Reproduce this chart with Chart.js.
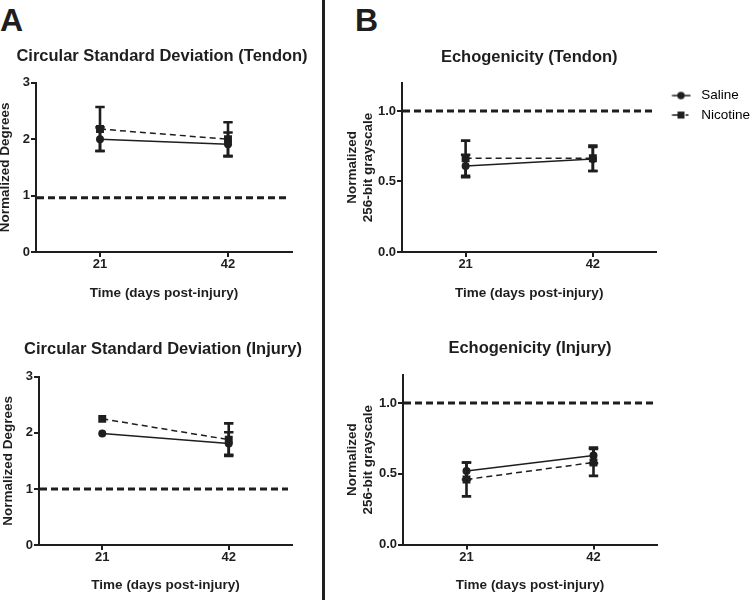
<!DOCTYPE html>
<html>
<head>
<meta charset="utf-8">
<script src="https://cdn.jsdelivr.net/npm/chart.js@4"></script>
<style>
  html, body { margin: 0; padding: 0; background: #fff; }
  #page { position: relative; width: 751px; height: 600px; overflow: hidden; font-family: "Liberation Sans", Arial, sans-serif; }
  canvas { position: absolute; }
  .letter { position: absolute; font-weight: bold; font-size: 32px; line-height: 1; color: #1e1e1e; }
  #divider { position: absolute; left: 322px; top: 0; width: 3px; height: 600px; background: #1e1e1e; }
</style>
</head>
<body>
<div id="page">
  <div class="letter" style="left:0px; top:4px">A</div>
  <div class="letter" style="left:355px; top:4px">B</div>
  <div id="divider"></div>
  <canvas id="cstdTendon" width="324" height="310" style="left:0; top:0"></canvas>
  <canvas id="cstdInjury" width="326" height="300" style="left:0; top:300px"></canvas>
  <canvas id="echoTendon" width="434" height="310" style="left:326px; top:0"></canvas>
  <canvas id="echoInjury" width="340" height="300" style="left:326px; top:300px"></canvas>
</div>
<script>
// values (mean, error half-length)
const days = ["21", "42"];
const seriesNames = ["Saline", "Nicotine"];

const cstdTendonSaline = [2.00, 1.91];
const cstdTendonSalineErr = [0.21, 0.21];
const cstdTendonNicotine = [2.18, 2.00];
const cstdTendonNicotineErr = [0.39, 0.30];
const cstdTendonRef = 0.96;

const cstdInjurySaline = [1.99, 1.81];
const cstdInjurySalineErr = [0, 0.20];
const cstdInjuryNicotine = [2.25, 1.88];
const cstdInjuryNicotineErr = [0, 0.29];
const cstdInjuryRef = 1.0;

const echoTendonSaline = [0.61, 0.66];
const echoTendonSalineErr = [0.08, 0.085];
const echoTendonNicotine = [0.665, 0.665];
const echoTendonNicotineErr = [0.125, 0.09];
const echoTendonRef = 1.0;

const echoInjurySaline = [0.52, 0.63];
const echoInjurySalineErr = [0.06, 0.055];
const echoInjuryNicotine = [0.46, 0.58];
const echoInjuryNicotineErr = [0.12, 0.095];
const echoInjuryRef = 1.0;

const ink = "#1e1e1e";
Chart.defaults.font.family = "'Liberation Sans', Arial, sans-serif";
Chart.defaults.color = ink;

const refLinePlugin = {
	id: "refLine",
	beforeDatasetsDraw(chart, args, opts) {
		const { ctx, chartArea, scales } = chart;
		const y = scales.y.getPixelForValue(opts.value);
		ctx.save();
		ctx.strokeStyle = ink;
		ctx.lineWidth = 3;
		ctx.setLineDash([7, 4]);
		ctx.beginPath();
		ctx.moveTo(chartArea.left + 1, y);
		ctx.lineTo(chartArea.right - 4, y);
		ctx.stroke();
		ctx.restore();
	}
};

const errorBarPlugin = {
	id: "errorBars",
	beforeDatasetsDraw(chart) {
		const { ctx, scales } = chart;
		ctx.save();
		ctx.strokeStyle = ink;
		ctx.lineWidth = 2.6;
		chart.data.datasets.forEach((ds, i) => {
			const meta = chart.getDatasetMeta(i);
			ds.errors.forEach((err, j) => {
				if (!err) return;
				const x = meta.data[j].x;
				const top = scales.y.getPixelForValue(ds.data[j] + err);
				const bottom = scales.y.getPixelForValue(ds.data[j] - err);
				ctx.beginPath();
				ctx.moveTo(x, top);
				ctx.lineTo(x, bottom);
				ctx.moveTo(x - 4.7, top);
				ctx.lineTo(x + 4.7, top);
				ctx.moveTo(x - 4.7, bottom);
				ctx.lineTo(x + 4.7, bottom);
				ctx.stroke();
			});
		});
		ctx.restore();
	}
};

function legendIcon(square) {
	const $c = document.createElement("canvas");
	$c.width = 32;
	$c.height = 12;
	const g = $c.getContext("2d");
	g.strokeStyle = ink;
	g.fillStyle = ink;
	g.lineWidth = 1.5;
	g.beginPath();
	if (square) {
		g.moveTo(9.5, 6); g.lineTo(16, 6);
		g.moveTo(23, 6); g.lineTo(26, 6);
		g.stroke();
		g.fillRect(15, 2.5, 7, 7);
	} else {
		g.moveTo(9.5, 6); g.lineTo(28, 6);
		g.stroke();
		g.beginPath();
		g.arc(18.5, 6, 3.7, 0, Math.PI * 2);
		g.fill();
	}
	return $c;
}
const legendIcons = [legendIcon(false), legendIcon(true)];

function makePanel(id, p) {
	const axisGrid = { offset: false, drawOnChartArea: false, drawTicks: true, tickLength: 5, color: ink, lineWidth: 2 };
	const scales = {
		x: {
			type: "category",
			offset: true,
			grid: axisGrid,
			border: { color: ink, width: 2 },
			ticks: { padding: 0, maxRotation: 0, color: ink, font: { size: 13, weight: "bold" } },
			title: {
				display: true,
				text: "Time (days post-injury)",
				color: ink,
				font: { size: 13.5, weight: "bold", lineHeight: 1 },
				padding: { top: 0, bottom: 0 }
			},
			afterFit: (s) => { s.height = p.xHeight; }
		},
		y: {
			min: 0,
			max: p.yMax,
			grid: axisGrid,
			border: { color: ink, width: 2 },
			ticks: {
				stepSize: p.yStep,
				includeBounds: false,
				padding: 1,
				color: ink,
				font: { size: 13, weight: "bold" },
				callback: p.yFormat
			},
			title: {
				display: true,
				text: p.yTitle,
				color: ink,
				font: { size: 13.5, weight: "bold", lineHeight: p.yLine },
				padding: { top: p.yTitlePad, bottom: 0 }
			},
			afterFit: (s) => { s.width = p.yWidth; }
		}
	};
	if (p.spacer) {
		// empty right-hand box so the wide title stays centred over the plot
		scales.spacer = {
			type: "linear",
			position: "right",
			grid: { display: false },
			border: { display: false },
			ticks: { display: false },
			afterFit: (s) => { s.width = p.spacer; }
		};
	}
	return new Chart(document.getElementById(id), {
		type: "line",
		data: {
			labels: days,
			datasets: [{
				label: seriesNames[0],
				data: p.saline,
				errors: p.salineErr,
				borderColor: ink,
				backgroundColor: ink,
				borderWidth: 1.5,
				pointStyle: "circle",
				pointRadius: 4,
				pointBorderWidth: 0,
				tension: 0
			}, {
				label: seriesNames[1],
				data: p.nicotine,
				errors: p.nicotineErr,
				borderColor: ink,
				backgroundColor: ink,
				borderWidth: 1.5,
				borderDash: [6, 4],
				pointStyle: "rect",
				pointRadius: 5.6,
				pointBorderWidth: 0,
				tension: 0
			}]
		},
		options: {
			responsive: false,
			animation: false,
			events: [],
			layout: { padding: p.padding },
			plugins: {
				title: {
					display: true,
					text: p.title,
					fullSize: p.titleFull,
					color: ink,
					font: { size: 16.5, weight: "bold", lineHeight: 1.2 },
					padding: p.titlePad
				},
				legend: p.legend ? {
					display: true,
					position: "right",
					align: "start",
					fullSize: false,
					labels: {
						usePointStyle: true,
						pointStyleWidth: 32,
						padding: 6,
						color: ink,
						font: { size: 13.5 },
						generateLabels: () => seriesNames.map((name, i) => ({
							text: name,
							pointStyle: legendIcons[i],
							fillStyle: ink,
							strokeStyle: ink,
							lineWidth: 0,
							hidden: false,
							datasetIndex: i
						}))
					}
				} : { display: false },
				tooltip: { enabled: false },
				refLine: { value: p.ref }
			},
			scales
		},
		plugins: [refLinePlugin, errorBarPlugin]
	});
}

const intTicks = (v) => String(v);
const decTicks = (v) => v.toFixed(1);

makePanel("cstdTendon", {
	title: "Circular Standard Deviation (Tendon)", titleFull: true,
	titlePad: { top: 47, bottom: 16 },
	padding: { left: 0, right: 0, top: 0, bottom: 10 },
	saline: cstdTendonSaline, salineErr: cstdTendonSalineErr,
	nicotine: cstdTendonNicotine, nicotineErr: cstdTendonNicotineErr,
	ref: cstdTendonRef,
	yMax: 3, yStep: 1, yFormat: intTicks,
	yTitle: "Normalized Degrees", yLine: 1, yTitlePad: -1.25, yWidth: 36, xHeight: 48, spacer: 32
});

makePanel("cstdInjury", {
	title: "Circular Standard Deviation (Injury)", titleFull: true,
	titlePad: { top: 40, bottom: 17 },
	padding: { left: 0, right: 0, top: 0, bottom: 8 },
	saline: cstdInjurySaline, salineErr: cstdInjurySalineErr,
	nicotine: cstdInjuryNicotine, nicotineErr: cstdInjuryNicotineErr,
	ref: cstdInjuryRef,
	yMax: 3, yStep: 1, yFormat: intTicks,
	yTitle: "Normalized Degrees", yLine: 1, yTitlePad: 1.25, yWidth: 39, xHeight: 47, spacer: 34
});

makePanel("echoTendon", {
	title: "Echogenicity (Tendon)", titleFull: false,
	titlePad: { top: 47.5, bottom: 15.5 },
	padding: { left: 0, right: 0, top: 0, bottom: 10 },
	saline: echoTendonSaline, salineErr: echoTendonSalineErr,
	nicotine: echoTendonNicotine, nicotineErr: echoTendonNicotineErr,
	ref: echoTendonRef,
	yMax: 1.2, yStep: 0.5, yFormat: decTicks,
	yTitle: ["Normalized", "256-bit grayscale"], yLine: 1.2, yTitlePad: 18, yWidth: 76, xHeight: 48,
	legend: true
});

makePanel("echoInjury", {
	title: "Echogenicity (Injury)", titleFull: false,
	titlePad: { top: 39, bottom: 16 },
	padding: { left: 0, right: 9, top: 0, bottom: 8 },
	saline: echoInjurySaline, salineErr: echoInjurySalineErr,
	nicotine: echoInjuryNicotine, nicotineErr: echoInjuryNicotineErr,
	ref: echoInjuryRef,
	yMax: 1.2, yStep: 0.5, yFormat: decTicks,
	yTitle: ["Normalized", "256-bit grayscale"], yLine: 1.2, yTitlePad: 18.4, yWidth: 77, xHeight: 47.5
});
</script>
</body>
</html>
